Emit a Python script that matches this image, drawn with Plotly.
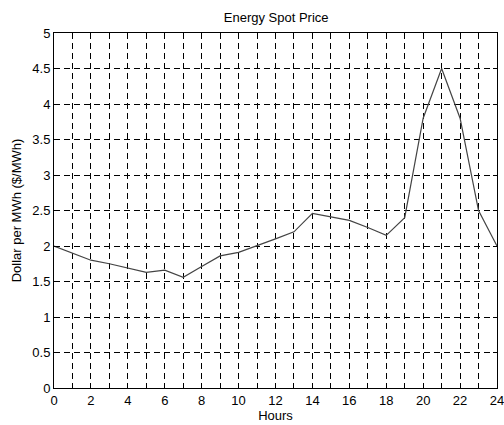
import plotly.graph_objects as go

hours = list(range(25))
price = [2.0, 1.9, 1.8, 1.75, 1.69, 1.63, 1.66, 1.56, 1.71, 1.86, 1.91, 2.0, 2.1, 2.2, 2.46,
         2.41, 2.36, 2.26, 2.15, 2.4, 3.8, 4.5, 3.8, 2.5, 2.0]
x_ticks = list(range(0, 25, 2))
y_ticks = [0, 0.5, 1, 1.5, 2, 2.5, 3, 3.5, 4, 4.5, 5]
y_labels = ["0", "0.5", "1", "1.5", "2", "2.5", "3", "3.5", "4", "4.5", "5"]

fig = go.Figure()
fig.add_trace(go.Scatter(x=hours, y=price, mode="lines",
                         line=dict(color="#444444", width=1.2), showlegend=False))

dash = "6px,4px"
font = dict(family="Liberation Sans, Arial, sans-serif", size=13, color="black")
fig.update_layout(
    width=504, height=425,
    margin=dict(l=54, r=7, t=33, b=37),
    paper_bgcolor="white", plot_bgcolor="white",
    font=font,
    title=dict(text="Energy Spot Price", x=0.548, xanchor="center",
               y=1 - 17 / 425, yanchor="middle", yref="container",
               font=dict(size=13)),
    xaxis=dict(range=[0, 24], tickvals=x_ticks, ticktext=[str(v) for v in x_ticks],
               showgrid=True, gridcolor="black", griddash=dash, gridwidth=1,
               minor=dict(dtick=1, tick0=0, showgrid=True, gridcolor="black",
                          griddash=dash, gridwidth=1),
               showline=True, linecolor="black", linewidth=1, mirror="ticks",
               ticks="inside", ticklen=4, tickcolor="black", zeroline=False,
               automargin=False, ticklabeloverflow="allow",
               title=dict(text="Hours", standoff=4, font=dict(size=13)),
               tickfont=dict(size=13)),
    yaxis=dict(range=[0, 5], tickvals=y_ticks, ticktext=y_labels,
               showgrid=True, gridcolor="black", griddash=dash, gridwidth=1,
               showline=True, linecolor="black", linewidth=1, mirror="ticks",
               ticks="inside", ticklen=4, tickcolor="black", zeroline=False,
               automargin=False,
               title=dict(text="Dollar per MWh ($/MWh)", standoff=7, font=dict(size=13)),
               tickfont=dict(size=13)),
)
fig.write_html("out.html", config={"displayModeBar": False},
               post_script="document.body.style.margin='0';document.body.style.overflow='hidden';")
